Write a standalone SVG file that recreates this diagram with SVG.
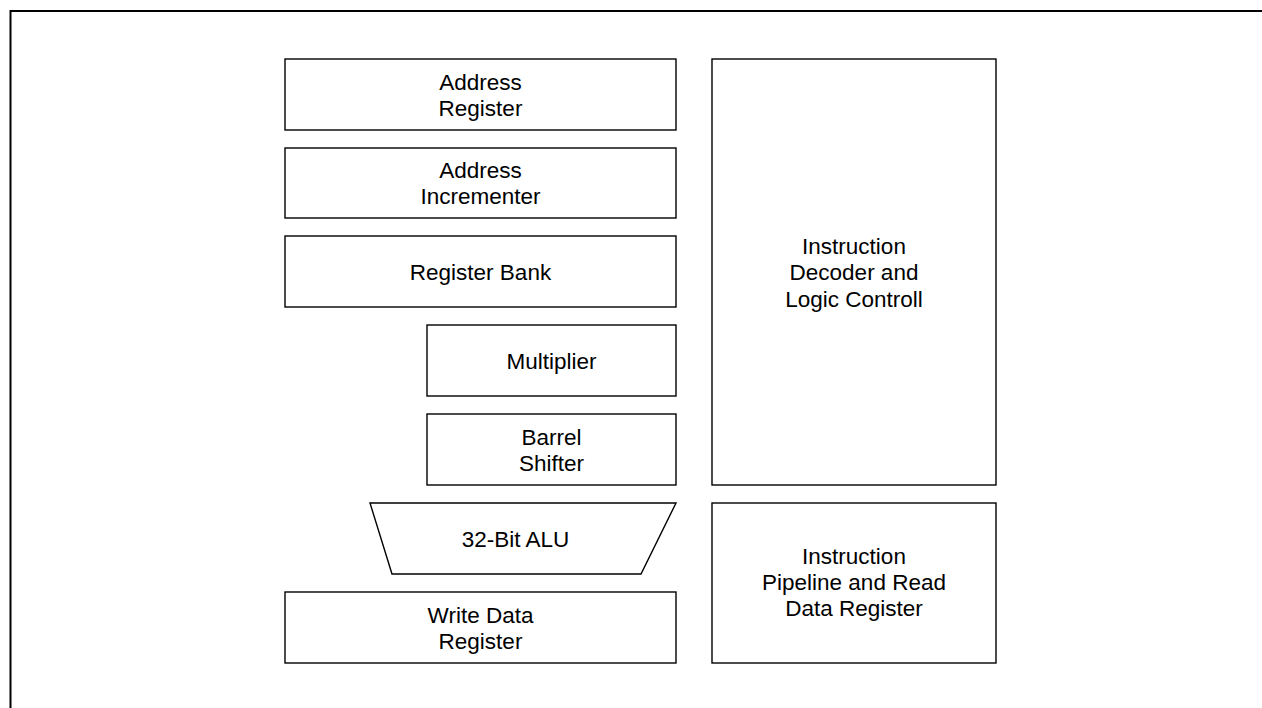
<svg xmlns="http://www.w3.org/2000/svg" width="1262" height="708" viewBox="0 0 1262 708">
<style>
.b{fill:#fff;stroke:#000;stroke-width:1.4}
.t{font-family:"Liberation Sans",Arial,sans-serif;font-size:22.5px;fill:#000;text-anchor:middle}
</style>
<rect width="1262" height="708" fill="#fff"/>
<path d="M10.5,708 V11 H1262" fill="none" stroke="#000" stroke-width="2"/>
<g id="address-register"><rect class="b" x="285" y="59" width="391" height="71"/><text class="t" x="480.5" y="89.5">Address</text><text class="t" x="480.5" y="115.5">Register</text></g>
<g id="address-incrementer"><rect class="b" x="285" y="148" width="391" height="70"/><text class="t" x="480.5" y="178">Address</text><text class="t" x="480.5" y="204">Incrementer</text></g>
<g id="register-bank"><rect class="b" x="285" y="236" width="391" height="71"/><text class="t" x="480.5" y="280">Register Bank</text></g>
<g id="multiplier"><rect class="b" x="427" y="325" width="249" height="71"/><text class="t" x="551.5" y="369">Multiplier</text></g>
<g id="barrel-shifter"><rect class="b" x="427" y="414" width="249" height="71"/><text class="t" x="551.5" y="444.5">Barrel</text><text class="t" x="551.5" y="470.5">Shifter</text></g>
<g id="alu"><polygon class="b" points="370,503 676,503 641,574 392,574"/><text class="t" x="515.5" y="546.5">32-Bit ALU</text></g>
<g id="write-data-register"><rect class="b" x="285" y="592" width="391" height="71"/><text class="t" x="480.5" y="622.5">Write Data</text><text class="t" x="480.5" y="648.5">Register</text></g>
<g id="instruction-decoder"><rect class="b" x="712" y="59" width="284" height="426"/><text class="t" x="854" y="253.5">Instruction</text><text class="t" x="854" y="280">Decoder and</text><text class="t" x="854" y="306.5">Logic Controll</text></g>
<g id="instruction-pipeline"><rect class="b" x="712" y="503" width="284" height="160"/><text class="t" x="854" y="563.5">Instruction</text><text class="t" x="854" y="590">Pipeline and Read</text><text class="t" x="854" y="616">Data Register</text></g>
<g id="connectors"/>
</svg>
